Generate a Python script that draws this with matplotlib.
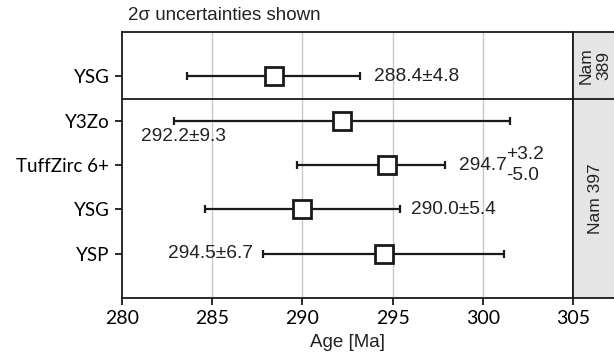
import matplotlib
matplotlib.use('Agg')
import matplotlib.pyplot as plt

# data
samples = ['YSG', 'Y3Zo', 'TuffZirc 6+', 'YSG', 'YSP']
ages = [288.4, 292.2, 294.7, 290.0, 294.5]
err_lo = [4.8, 9.3, 5.0, 5.4, 6.7]
err_hi = [4.8, 9.3, 3.2, 5.4, 6.7]
groups = ['Nam\n389', 'Nam 397']
xticks = [280, 285, 290, 295, 300, 305]

ann = 'Liberation Sans'
lab = 'Lato'

fig = plt.figure(figsize=(6.14, 3.64), dpi=100)
ax = fig.add_axes([122/614, 1-298/364, 451/614, 266/364])

# y layout: one slot per row, gap of 0.5 between groups, 1 slot padding on outer ends
ypos = [5, 4, 3, 2, 1]

ax.errorbar(ages, ypos, xerr=[err_lo, err_hi], fmt='none', ecolor='#1a1a1a',
            elinewidth=1.6, capsize=2.8, capthick=1.6, zorder=3)
ax.plot(ages, ypos, 's', ms=13, mfc='white', mec='#1a1a1a', mew=2, zorder=4)

ax.axhline(4.5, color='#1a1a1a', lw=1.3, zorder=5)
for x in xticks[1:-1]:
    ax.axvline(x, color='#c8c8c8', lw=1, zorder=1)

ax.set_xlim(280, 305)
ax.set_ylim(0, 6)
ax.set_xticks(xticks)
ax.set_xticklabels([str(t) for t in xticks], family=lab, fontsize=14)
ax.set_yticks(ypos)
ax.set_yticklabels(samples, family=lab, fontsize=13.5)
ax.tick_params(direction='out', length=5, width=1.3, color='#1a1a1a', pad=4)
for s in ax.spines.values():
    s.set_color('#1a1a1a')
    s.set_linewidth(1.3)
ax.set_xlabel('Age [Ma]', family=ann, fontsize=13.5, labelpad=5, color='#222222')

# age labels
fs = 13.8
tc = '#222222'
ax.text(ages[0] + err_hi[0] + 0.75, ypos[0], '288.4±4.8', family=ann, fontsize=fs, va='center', ha='left', color=tc)
ax.text(281.05, ypos[1] - 0.35, '292.2±9.3', family=ann, fontsize=fs, va='center', ha='left', color=tc)
ax.text(ages[2] + err_hi[2] + 0.8, ypos[2], '294.7', family=ann, fontsize=fs, va='center', ha='left', color=tc)
ax.text(301.3, ypos[2] + 0.23, '+3.2', family=ann, fontsize=fs, va='center', ha='left', color=tc)
ax.text(301.3, ypos[2] - 0.23, '-5.0', family=ann, fontsize=fs, va='center', ha='left', color=tc)
ax.text(ages[3] + err_hi[3] + 0.6, ypos[3], '290.0±5.4', family=ann, fontsize=fs, va='center', ha='left', color=tc)
ax.text(ages[4] - err_lo[4] - 0.55, ypos[4], '294.5±6.7', family=ann, fontsize=fs, va='center', ha='right', color=tc)

ax.text(0.013, 1.03, '2σ uncertainties shown', transform=ax.transAxes, family=ann,
        fontsize=13.5, ha='left', va='bottom', color=tc)

# facet strip on the right
sx = fig.add_axes([573/614, 1-298/364, 46/614, 266/364])
sx.set_facecolor('#e5e5e5')
sx.set_xlim(0, 1)
sx.set_ylim(0, 6)
sx.set_xticks([])
sx.set_yticks([])
for s in sx.spines.values():
    s.set_color('#1a1a1a')
    s.set_linewidth(1.3)
sx.axhline(4.5, color='#1a1a1a', lw=1.3)
sx.text(0.48, 5.25, groups[0], family=ann, fontsize=12.5, rotation=90,
        ha='center', va='center', linespacing=1.2, multialignment='center', color=tc)
sx.text(0.48, 2.25, groups[1], family=ann, fontsize=12.5, rotation=90,
        ha='center', va='center', color=tc)

fig.savefig('out.png', dpi=100)
